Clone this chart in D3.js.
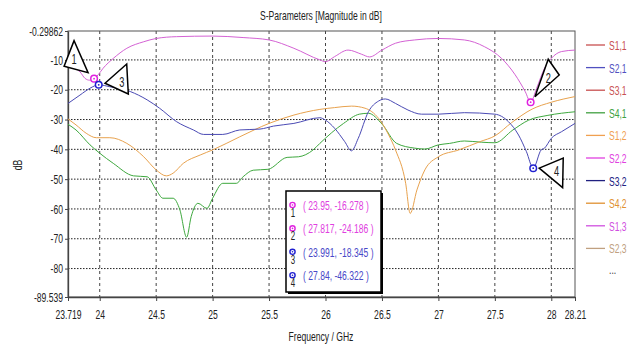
<!DOCTYPE html>
<html>
<head>
<meta charset="utf-8">
<script src="https://cdn.jsdelivr.net/npm/d3@7"></script>
<style>
  body { margin: 0; background: #fff; }
  text { font-family: "Liberation Sans", Arial, sans-serif; font-size: 13px; }
</style>
</head>
<body>
<svg id="chart"></svg>
<script>
// ---- data ----
var xTicks = [23.719, 24, 24.5, 25, 25.5, 26, 26.5, 27, 27.5, 28, 28.21];
var xTickLabels = ["23.719", "24", "24.5", "25", "25.5", "26", "26.5", "27", "27.5", "28", "28.21"];
var yTicks = [-0.29862, -10, -20, -30, -40, -50, -60, -70, -80, -89.539];
var yTickLabels = ["-0.29862", "-10", "-20", "-30", "-40", "-50", "-60", "-70", "-80", "-89.539"];

var legendNames = ["S1,1", "S2,1", "S3,1", "S4,1", "S1,2", "S2,2", "S3,2", "S4,2", "S1,3", "S2,3"];
var legendColors = ["#c85050", "#5050c0", "#c85050", "#40a040", "#f0a050", "#e040e0", "#202080", "#e09030", "#d050e0", "#c0a080"];

// magenta curve
var magentaF = [23.719, 23.78, 23.825, 23.87, 23.91, 23.95, 23.99, 24.03, 24.12, 24.24, 24.39, 24.5, 24.68, 25.0, 25.27, 25.5, 25.72, 25.95, 26.0, 26.08, 26.2, 26.32, 26.39, 26.5, 26.62, 26.79, 27.0, 27.23, 27.41, 27.56, 27.68, 27.77, 27.817, 27.87, 27.94, 28.0, 28.09, 28.21];
var magentaDb = [-12, -12.8, -14, -16.2, -16.8, -16.3, -14.8, -12.8, -9.5, -6.1, -3.9, -2.8, -2.2, -2.0, -2.5, -3.3, -6.1, -10.0, -10.6, -8.9, -6.7, -8.1, -9.0, -6.7, -4.4, -3.3, -2.8, -3.3, -5.6, -9.5, -15, -20.7, -24.2, -19.5, -12.8, -9.5, -7.2, -6.7];

// blue curve
var blueF = [23.719, 23.825, 23.914, 23.991, 24.09, 24.27, 24.42, 24.53, 24.68, 24.83, 24.92, 25.09, 25.24, 25.42, 25.54, 25.72, 25.95, 26.0, 26.08, 26.17, 26.23, 26.29, 26.38, 26.47, 26.53, 26.62, 26.73, 26.85, 27.0, 27.23, 27.5, 27.62, 27.71, 27.78, 27.84, 27.91, 27.94, 28.0, 28.09, 28.21];
var blueDb = [-24.6, -21.8, -19.5, -18.35, -19, -20.6, -23.4, -26.2, -30.7, -33.5, -35, -35, -33.5, -33.2, -32.2, -31.3, -29.4, -30.2, -32.9, -37.4, -40.5, -36.3, -27.4, -23.8, -23.1, -24.6, -26.8, -28.2, -28.2, -27.7, -28.2, -30.7, -35.2, -40.8, -46.3, -40.2, -39.6, -36.3, -34.1, -31.3];

// green curve
var greenF = [23.719, 23.79, 23.914, 24.0, 24.12, 24.3, 24.42, 24.5, 24.56, 24.65, 24.71, 24.77, 24.81, 24.87, 24.95, 25.0, 25.09, 25.21, 25.27, 25.36, 25.49, 25.66, 25.76, 25.89, 25.95, 26.16, 26.3, 26.38, 26.5, 26.63, 26.79, 26.88, 27.0, 27.1, 27.23, 27.38, 27.5, 27.66, 27.8, 27.97, 28.21];
var greenDb = [-31.6, -33.5, -38.5, -41.3, -44.7, -48.9, -49.2, -53.6, -56.4, -56.4, -60.3, -69.5, -62.6, -58.1, -59.8, -56.4, -51.4, -51.4, -49.2, -47, -46.7, -42.7, -42.5, -40.2, -38, -31.3, -28.2, -27.9, -31.5, -38, -39.6, -39.9, -38.5, -38, -37.2, -37.6, -37.8, -33.5, -30.2, -28.6, -27.4];

// orange curve
var orangeF = [23.719, 23.79, 23.88, 23.97, 24.09, 24.24, 24.39, 24.5, 24.59, 24.65, 24.74, 24.89, 25.0, 25.24, 25.5, 25.72, 25.95, 26.08, 26.23, 26.35, 26.47, 26.56, 26.62, 26.71, 26.75, 26.81, 26.88, 27.0, 27.18, 27.37, 27.5, 27.65, 27.83, 28.0, 28.21];
var orangeDb = [-29.8, -31.8, -34.6, -36.1, -36.1, -38, -42.5, -46.9, -48.9, -48.0, -44.7, -41.9, -40.2, -35.8, -31.3, -28.5, -26.6, -26, -25.5, -26.2, -29.6, -35.2, -40.2, -51.4, -61.5, -53.6, -46.9, -42.5, -40.2, -37.4, -35.5, -31, -26.5, -24.2, -22.3];

var markerF = [23.95, 27.817, 23.991, 27.84];
var markerDb = [-16.278, -24.186, -18.345, -46.322];
var markerColors = ["#e020e0", "#e020e0", "#2020d0", "#2020d0"];
var markerTextColors = ["#e040e0", "#e040e0", "#4848c8", "#4848c8"];

// ---- layout ----
var svgWidth = 637, svgHeight = 347;
var margin = { top: 31, right: 62, bottom: 50, left: 68 };
var width = svgWidth - margin.left - margin.right;
var height = svgHeight - margin.top - margin.bottom;
var sx = 0.66; // the original font is very narrow

var svg = d3.select("#chart").attr("width", svgWidth).attr("height", svgHeight);
var chartGroup = svg.append("g").attr("transform", `translate(${margin.left}, ${margin.top})`);

var x = d3.scaleLinear().domain([23.719, 28.21]).range([0, width]);
var y = d3.scaleLinear().domain([-89.539, -0.29862]).range([height, 0]);

function squeeze(t, px, py) {
  t.attr("transform", `translate(${px}, ${py}) scale(${sx}, 1)`);
  return t;
}

// grid
chartGroup.append("g").selectAll("line")
  .data(xTicks.slice(1, -1))
  .enter().append("line")
  .attr("x1", d => x(d)).attr("x2", d => x(d))
  .attr("y1", 0).attr("y2", height)
  .attr("stroke", "#444").attr("stroke-dasharray", "3,3");

chartGroup.append("g").selectAll("line")
  .data(yTicks.slice(1, -1))
  .enter().append("line")
  .attr("x1", 0).attr("x2", width)
  .attr("y1", d => y(d)).attr("y2", d => y(d))
  .attr("stroke", "#222").attr("stroke-dasharray", "1.5,1.5");

// frame
chartGroup.append("rect")
  .attr("width", width).attr("height", height)
  .attr("fill", "none").attr("stroke", "#555");

// axes
var bottomAxis = d3.axisBottom(x).tickValues(xTicks).tickSize(4).tickSizeOuter(0)
  .tickFormat((d, i) => xTickLabels[i]);
var leftAxis = d3.axisLeft(y).tickValues(yTicks).tickSize(3).tickSizeOuter(0)
  .tickFormat((d, i) => yTickLabels[i]);

var xAxis = chartGroup.append("g")
  .attr("transform", `translate(0, ${height})`)
  .call(bottomAxis);
xAxis.selectAll("text").attr("y", 13).attr("fill", "#222")
  .attr("transform", `scale(${sx}, 1)`);

var yAxis = chartGroup.append("g").call(leftAxis);
yAxis.selectAll("text").attr("x", -7.6).attr("fill", "#222")
  .attr("transform", `scale(${sx}, 1)`);

chartGroup.selectAll(".domain").attr("stroke", "#444").attr("stroke-width", 1.3);
chartGroup.selectAll(".tick line").attr("stroke", "#444");

// curves
var line = d3.line()
  .x(d => x(d[0]))
  .y(d => y(d[1]))
  .curve(d3.curveMonotoneX);

function drawCurve(fs, dbs, color) {
  chartGroup.append("path")
    .datum(d3.zip(fs, dbs))
    .attr("d", line)
    .attr("fill", "none")
    .attr("stroke", color)
    .attr("stroke-width", 1);
}

drawCurve(greenF, greenDb, "#3ea83e");
drawCurve(orangeF, orangeDb, "#e8a24e");
drawCurve(blueF, blueDb, "#4a4ab4");
drawCurve(magentaF, magentaDb, "#d462d4");

// marker circles on curves
markerF.forEach(function (f, i) {
  var g = chartGroup.append("g").attr("transform", `translate(${x(f)}, ${y(markerDb[i])})`);
  g.append("circle").attr("r", 3.3).attr("fill", "#fff")
    .attr("stroke", markerColors[i]).attr("stroke-width", 1.5);
  g.append("circle").attr("r", 0.9).attr("fill", markerColors[i]);
});

// marker flags (triangles with the marker number)
var flagShapes = [
  { pts: [[-20, -38], [-30, -12.5], [-6, -6]], label: [-20, -15] },
  { pts: [[17.6, -43], [28.6, -27.2], [4.3, -5.5]], label: [17.6, -19] },
  { pts: [[6.3, -1.5], [28, -20.8], [29.6, 9.2]], label: [23, 2] },
  { pts: [[6, 0], [30, -10], [29.4, 19.5]], label: [23.4, 8] }
];
flagShapes.forEach(function (s, i) {
  var px = x(markerF[i]), py = y(markerDb[i]);
  chartGroup.append("polygon")
    .attr("points", s.pts.map(p => [px + p[0], py + p[1]].join(",")).join(" "))
    .attr("fill", "#fff").attr("stroke", "#000").attr("stroke-width", 1.5)
    .attr("stroke-linejoin", "miter");
  squeeze(chartGroup.append("text"), px + s.label[0], py + s.label[1])
    .attr("text-anchor", "middle").attr("fill", "#222").style("font-size", "14px")
    .text(i + 1);
});

// marker readout box
var box = svg.append("g").attr("transform", "translate(286, 191)");
box.append("rect").attr("x", 2).attr("y", 2).attr("width", 95).attr("height", 101).attr("fill", "#000");
box.append("rect").attr("width", 95).attr("height", 101)
  .attr("fill", "#fff").attr("stroke", "#000").attr("stroke-width", 1.5);
markerF.forEach(function (f, i) {
  var ry = 14 + i * 23.4;
  box.append("circle").attr("cx", 6.5).attr("cy", ry).attr("r", 2.6)
    .attr("fill", "none").attr("stroke", markerColors[i]).attr("stroke-width", 1.4);
  box.append("circle").attr("cx", 6.5).attr("cy", ry).attr("r", 0.8).attr("fill", markerColors[i]);
  squeeze(box.append("text"), 7, ry + 12).attr("text-anchor", "middle")
    .attr("fill", "#222").style("font-size", "12px").text(i + 1);
  squeeze(box.append("text"), 17, ry + 5).attr("fill", markerTextColors[i])
    .text("( " + f + ", " + markerDb[i] + " )");
});

// legend
var legend = svg.append("g").attr("transform", "translate(586, 45)");
legendNames.forEach(function (name, i) {
  var ly = i * 22.6;
  legend.append("line").attr("x1", 0).attr("x2", 19).attr("y1", ly).attr("y2", ly)
    .attr("stroke", legendColors[i]).attr("stroke-width", 1.3);
  squeeze(legend.append("text"), 23, ly + 5).attr("fill", legendColors[i]).text(name);
});
squeeze(legend.append("text"), 23, 10 * 22.6 + 3).attr("fill", "#333").text("...");

// titles
squeeze(svg.append("text"), 321, 20).attr("text-anchor", "middle").attr("fill", "#222")
  .text("S-Parameters [Magnitude in dB]");
squeeze(svg.append("text"), 321, 341).attr("text-anchor", "middle").attr("fill", "#222")
  .text("Frequency / GHz");
svg.append("text")
  .attr("transform", `translate(22, 165) rotate(-90) scale(${sx}, 1)`)
  .attr("text-anchor", "middle").attr("fill", "#222")
  .text("dB");
</script>
</body>
</html>
